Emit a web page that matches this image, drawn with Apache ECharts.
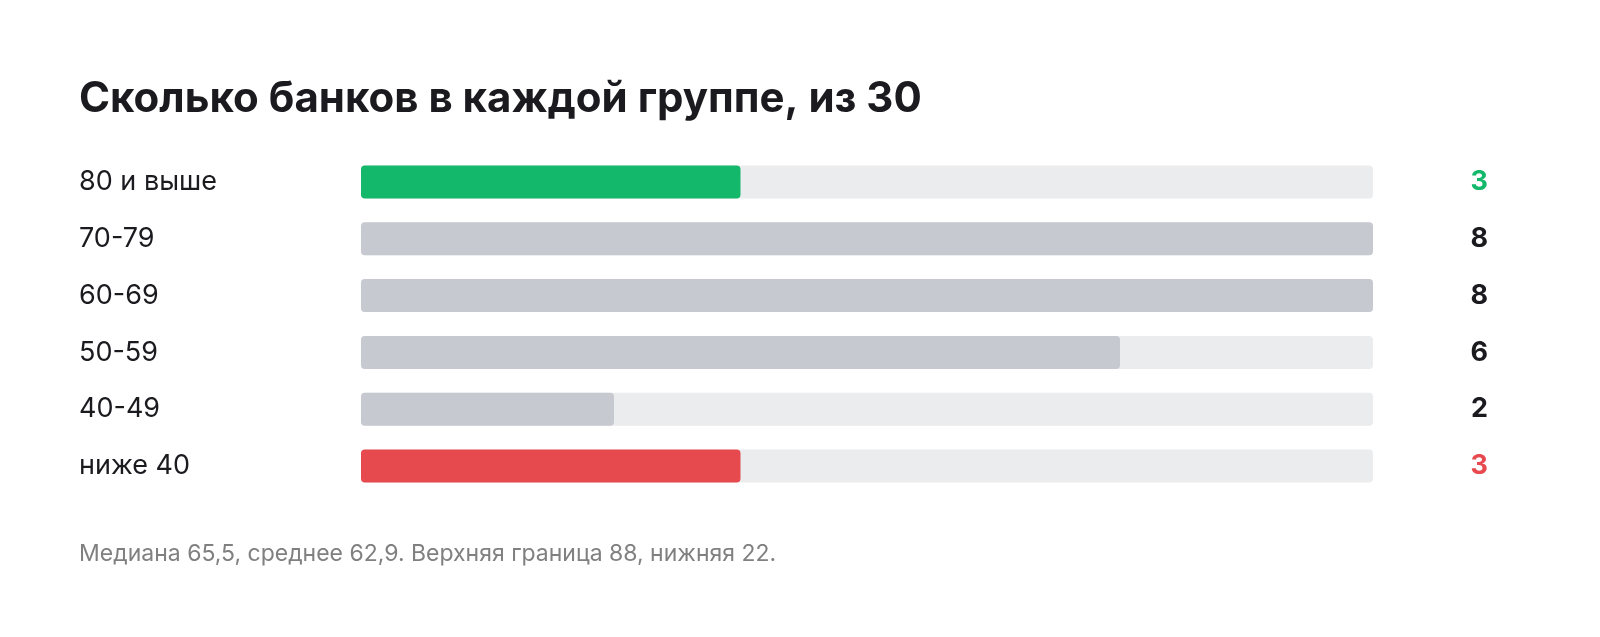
<!DOCTYPE html>
<html>
<head>
<meta charset="utf-8">
<script src="https://cdn.jsdelivr.net/npm/echarts@6/dist/echarts.min.js"></script>
<style>
  html, body { margin: 0; padding: 0; background: #fff; }
  #chart { width: 1600px; height: 637px; }
</style>
</head>
<body>
<div id="chart"></div>
<script>
// группы и число банков в каждой
const groups = ['80 и выше', '70-79', '60-69', '50-59', '40-49', 'ниже 40'];
const counts = [3, 8, 8, 6, 2, 3];
const barColors = ['#13b86b', '#c6c9d0', '#c6c9d0', '#c6c9d0', '#c6c9d0', '#e64a4f'];
const valueColors = ['#13b86b', '#1a1a1f', '#1a1a1f', '#1a1a1f', '#1a1a1f', '#e64a4f'];
const maxCount = 8;

const font = 'Inter, "Noto Sans", sans-serif';
const myChart = echarts.init(document.getElementById('chart'));

myChart.setOption({
  backgroundColor: '#fff',
  animation: false,
  title: [{
    text: 'Сколько банков в каждой группе, из 30',
    left: 79,
    top: 78,
    padding: 0,
    textStyle: { fontFamily: font, fontSize: 42, fontWeight: 'bold', color: '#1a1a1f' }
  }, {
    text: 'Медиана 65,5, среднее 62,9. Верхняя граница 88, нижняя 22.',
    left: 79,
    top: 543,
    padding: 0,
    textStyle: { fontFamily: font, fontSize: 23, fontWeight: 'normal', color: '#808080' }
  }],
  grid: { left: 361, right: 227, top: 153.6, height: 340.8, containLabel: false },
  xAxis: { type: 'value', min: 0, max: maxCount, show: false },
  yAxis: [{
    type: 'category',
    data: groups,
    inverse: true,
    axisLine: { show: false },
    axisTick: { show: false },
    axisLabel: {
      align: 'left',
      margin: 282,
      fontFamily: font,
      fontSize: 27,
      color: '#1a1a1f'
    }
  }, {
    type: 'category',
    data: counts.map(String),
    inverse: true,
    position: 'right',
    axisLine: { show: false },
    axisTick: { show: false },
    axisLabel: {
      align: 'right',
      margin: 115,
      fontFamily: font,
      fontSize: 27,
      fontWeight: 'bold',
      color: (v, i) => valueColors[i]
    }
  }],
  series: [{
    type: 'bar',
    data: counts.map((c, i) => ({ value: c, itemStyle: { color: barColors[i] } })),
    barWidth: 33,
    itemStyle: { borderRadius: 4 },
    showBackground: true,
    backgroundStyle: { color: '#ebecee', borderRadius: 4 }
  }]
});
</script>
</body>
</html>
